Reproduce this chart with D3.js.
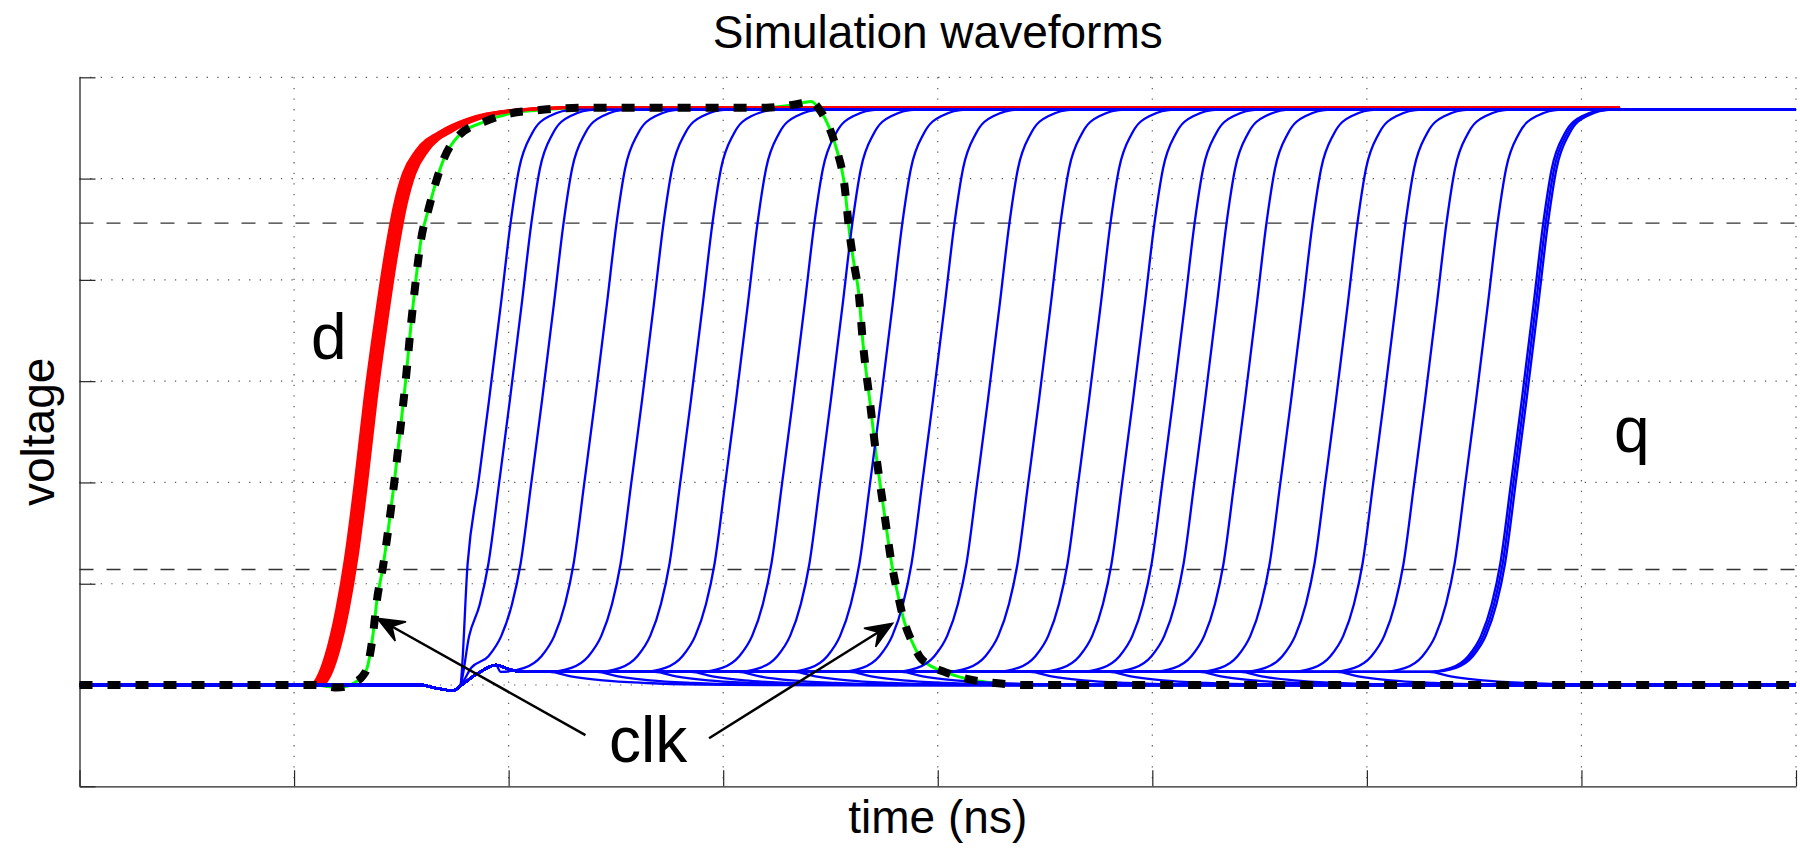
<!DOCTYPE html>
<html>
<head>
<meta charset="utf-8">
<script src="https://cdn.jsdelivr.net/npm/d3@7"></script>
<style>
  html, body { margin: 0; padding: 0; background: #ffffff; }
  svg { display: block; font-family: "Liberation Sans", Arial, Helvetica, sans-serif; }
</style>
</head>
<body>
<svg id="chart" width="1800" height="848"></svg>
<script>
// ---------------- data ----------------
const chartTitle = "Simulation waveforms";
const xLabel = "time (ns)";
const yLabel = "voltage";
const xTicks = [0, 1, 2, 3, 4, 5, 6, 7, 8];            // ns (no labels shown)
const yTicks = [-0.2, 0, 0.2, 0.4, 0.6, 0.8, 1.0, 1.2]; // V  (no labels shown)
const thresholdLevels = [0.228, 0.912];                 // 20% / 80% of supply

// clk waveform (t ns, V)
const clkWave = [
  [0, 0], [1.10, 0], [1.16, -0.003], [1.20, -0.005], [1.25, -0.002], [1.289, 0.0065],
  [1.32, 0.018], [1.342, 0.036], [1.368, 0.10], [1.387, 0.17], [1.413, 0.23],
  [1.44, 0.31], [1.467, 0.40], [1.494, 0.50], [1.52, 0.60], [1.547, 0.72],
  [1.565, 0.79], [1.592, 0.88], [1.627, 0.94], [1.659, 0.99], [1.699, 1.04],
  [1.77, 1.086], [1.886, 1.112], [2.011, 1.129], [2.135, 1.135], [2.269, 1.139],
  [2.394, 1.14], [3.20, 1.14], [3.33, 1.146], [3.41, 1.152], [3.451, 1.135],
  [3.496, 1.099], [3.532, 1.053], [3.562, 0.997], [3.591, 0.885], [3.612, 0.826],
  [3.630, 0.780], [3.653, 0.668], [3.684, 0.559], [3.714, 0.451], [3.750, 0.342],
  [3.787, 0.235], [3.813, 0.181], [3.844, 0.125], [3.880, 0.0855], [3.916, 0.056],
  [3.960, 0.0395], [4.031, 0.026], [4.147, 0.011], [4.281, 0.0033], [4.406, 0],
  [8, 0]
];

// d waveforms: 50%-crossing times of the red bundle, and the common edge shape
const dRiseTimes = [1.328, 1.336, 1.344, 1.352, 1.360, 1.368, 1.376, 1.384];
const dEdgeShape = [ // (dt from 50% crossing, V)
  [-0.249, 0], [-0.22, 0.015], [-0.18, 0.06], [-0.13, 0.15], [-0.09, 0.25],
  [-0.044, 0.40], [0, 0.563], [0.05, 0.72], [0.10, 0.86], [0.14, 0.95],
  [0.18, 1.01], [0.24, 1.055], [0.36, 1.095], [0.48, 1.118], [0.68, 1.135], [0.9, 1.14]
];
const dEndTime = 7.18;
const dHigh = 1.14;

// q waveforms: 50%-crossing times of each blue edge
const qRiseTimes = [
  1.909, 2.006, 2.156, 2.403, 2.622, 2.850, 3.060, 3.325, 3.502, 3.735,
  3.978, 4.234, 4.472, 4.705, 4.910, 5.097, 5.246, 5.432, 5.647, 5.856,
  6.080, 6.271, 6.509, 6.722, 6.733, 6.744
];
// shared low segment before each q edge (dip and bump after the clock edge)
const qPre = [
  [0, 0], [1.59, 0], [1.65, -0.005], [1.743, -0.011], [1.774, -0.002],
  [1.857, 0.023], [1.941, 0.0395], [2.003, 0.031], [2.066, 0.026], [2.2, 0.026]
];
const qTriggerTime = 1.774;
const qEdgeShape = [ // (dt from 50% crossing, V)
  [-0.44, 0.026], [-0.33, 0.034], [-0.25, 0.057], [-0.19, 0.097], [-0.14, 0.16],
  [-0.10, 0.24], [-0.05, 0.40], [0, 0.563], [0.055, 0.752], [0.10, 0.912],
  [0.14, 1.02], [0.20, 1.089], [0.28, 1.123], [0.40, 1.136]
];
const qHigh = 1.136;
// q-node branches that fall back from the plateau to ground
const qDecayTimes = [2.19, 2.41, 2.68, 2.85, 3.07, 3.33, 3.59, 3.83, 4.43, 4.80, 5.22, 5.41, 5.86, 6.29];
const qDecayShape = [[0, 0.026], [0.1, 0.017], [0.25, 0.009], [0.45, 0.004], [0.7, 0.001], [1.0, 0]];

// annotations
const labels = [
  { text: "d",   t: 1.079, v: 0.643 },
  { text: "q",   t: 7.152, v: 0.460 },
  { text: "clk", t: 2.468, v: -0.152 }
];
const arrows = [
  { from: [2.358, -0.099], to: [1.387, 0.132] },
  { from: [2.934, -0.105], to: [3.790, 0.122] }
];
const tMax = 8;

// ---------------- layout ----------------
const W = 1800, H = 848;
const plot = { left: 79.5, right: 1796, top: 77.3, bottom: 786.3 };

const svg = d3.select("#chart");
svg.append("rect").attr("width", W).attr("height", H).attr("fill", "#fff");

const x = d3.scaleLinear().domain([0, 8]).range([plot.left, plot.right]);
const y = d3.scaleLinear().domain([-0.2, 1.2]).range([plot.bottom, plot.top]);

// grid (dotted)
const grid = svg.append("g").attr("stroke", "#5a5a5a").attr("stroke-width", 1.2)
  .attr("stroke-dasharray", "1.3,9.3").attr("fill", "none");
grid.selectAll("line.v").data(xTicks.slice(1)).join("line").attr("class", "v")
  .attr("x1", d => x(d)).attr("x2", d => x(d))
  .attr("y1", y(yTicks[yTicks.length - 1])).attr("y2", y(yTicks[0]));
grid.selectAll("line.h").data(yTicks.slice(1)).join("line").attr("class", "h")
  .attr("y1", d => y(d)).attr("y2", d => y(d))
  .attr("x1", x(0)).attr("x2", x(8));

// 20% / 80% dashed lines
svg.append("g").selectAll("line").data(thresholdLevels).join("line")
  .attr("x1", x(0)).attr("x2", x(8))
  .attr("y1", d => y(d)).attr("y2", d => y(d))
  .attr("stroke", "#333").attr("stroke-width", 1.4).attr("stroke-dasharray", "14,13");

// axes
const xAxis = svg.append("g").attr("transform", `translate(0,${plot.bottom})`)
  .call(d3.axisBottom(x).tickValues(xTicks).tickSize(-16).tickSizeOuter(0).tickFormat(""));
const yAxis = svg.append("g").attr("transform", `translate(${plot.left},0)`)
  .call(d3.axisLeft(y).tickValues(yTicks).tickSize(-16).tickSizeOuter(0).tickFormat(""));
[xAxis, yAxis].forEach(a => {
  a.select(".domain").attr("stroke", "#262626").attr("stroke-width", 1.3);
  a.selectAll(".tick line").attr("stroke", "#262626").attr("stroke-width", 1.2);
});

// ---------------- waveforms ----------------
const line = d3.line().x(d => x(d[0])).y(d => y(d[1])).curve(d3.curveMonotoneX);

function dCurve(tc) {
  const pts = [[0, 0]];
  dEdgeShape.forEach(([dt, v]) => pts.push([tc + dt, v]));
  pts.push([dEndTime, dHigh]);
  return pts;
}
function qCurve(tc) {
  const tStart = tc + qEdgeShape[0][0];
  const cutoff = Math.max(tStart, qTriggerTime);
  const pts = qPre.filter(p => (tStart < qTriggerTime ? p[0] <= cutoff : p[0] < cutoff - 0.005));
  const lastT = pts[pts.length - 1][0];
  qEdgeShape.forEach(([dt, v]) => { if (tc + dt > lastT + 0.01) pts.push([tc + dt, v]); });
  pts.push([tMax, qHigh]);
  return pts;
}
function decayCurve(ts) {
  const pts = qPre.filter(p => p[0] < ts - 0.005);
  qDecayShape.forEach(([dt, v]) => pts.push([ts + dt, v]));
  pts.push([tMax, 0]);
  return pts;
}

const waves = svg.append("g").attr("fill", "none");

// clk underlay (green)
waves.append("path").attr("d", line(clkWave))
  .attr("stroke", "#00ff00").attr("stroke-width", 3);

// d (red)
waves.append("g").selectAll("path").data(dRiseTimes).join("path")
  .attr("d", d => line(dCurve(d)))
  .attr("stroke", "#ff0000").attr("stroke-width", 2.4);

// q (blue)
waves.append("g").selectAll("path").data(qDecayTimes).join("path")
  .attr("d", d => line(decayCurve(d)))
  .attr("stroke", "#0000ff").attr("stroke-width", 2.3);
waves.append("g").selectAll("path").data(qRiseTimes).join("path")
  .attr("d", d => line(qCurve(d)))
  .attr("stroke", "#0000ff").attr("stroke-width", 2.3);

// clk (black dashed, on top)
waves.append("path").attr("d", line(clkWave))
  .attr("stroke", "#000").attr("stroke-width", 8)
  .attr("stroke-dasharray", "13,15").attr("stroke-linecap", "butt");

// ---------------- annotations ----------------
const ann = svg.append("g");
arrows.forEach(a => {
  const x1 = x(a.from[0]), y1 = y(a.from[1]);
  const x2 = x(a.to[0]), y2 = y(a.to[1]);
  const ang = Math.atan2(y2 - y1, x2 - x1);
  const L = 27, Wd = 11, back = 17;
  const ux = Math.cos(ang), uy = Math.sin(ang);
  const px = -uy, py = ux;
  ann.append("line")
    .attr("x1", x1).attr("y1", y1)
    .attr("x2", x2 - ux * back).attr("y2", y2 - uy * back)
    .attr("stroke", "#000").attr("stroke-width", 2.5);
  const bx = x2 - ux * L, by = y2 - uy * L;
  const nx = x2 - ux * back, ny = y2 - uy * back;
  ann.append("path")
    .attr("d", `M${x2},${y2} L${bx + px * Wd},${by + py * Wd} L${nx},${ny} L${bx - px * Wd},${by - py * Wd} Z`)
    .attr("fill", "#000").attr("stroke", "#000").attr("stroke-width", 1.5).attr("stroke-linejoin", "miter");
});

ann.selectAll("text.lbl").data(labels).join("text").attr("class", "lbl")
  .attr("x", d => x(d.t)).attr("y", d => y(d.v))
  .attr("font-size", 64).attr("fill", "#000")
  .text(d => d.text);

// title and axis labels
svg.append("text").attr("x", (plot.left + plot.right) / 2).attr("y", 48)
  .attr("text-anchor", "middle").attr("font-size", 46).attr("fill", "#000").text(chartTitle);
svg.append("text").attr("x", (plot.left + plot.right) / 2).attr("y", 833)
  .attr("text-anchor", "middle").attr("font-size", 46).attr("fill", "#000").text(xLabel);
svg.append("text")
  .attr("transform", `translate(54,${(plot.top + plot.bottom) / 2}) rotate(-90)`)
  .attr("text-anchor", "middle").attr("font-size", 46).attr("fill", "#000").text(yLabel);
</script>
</body>
</html>
